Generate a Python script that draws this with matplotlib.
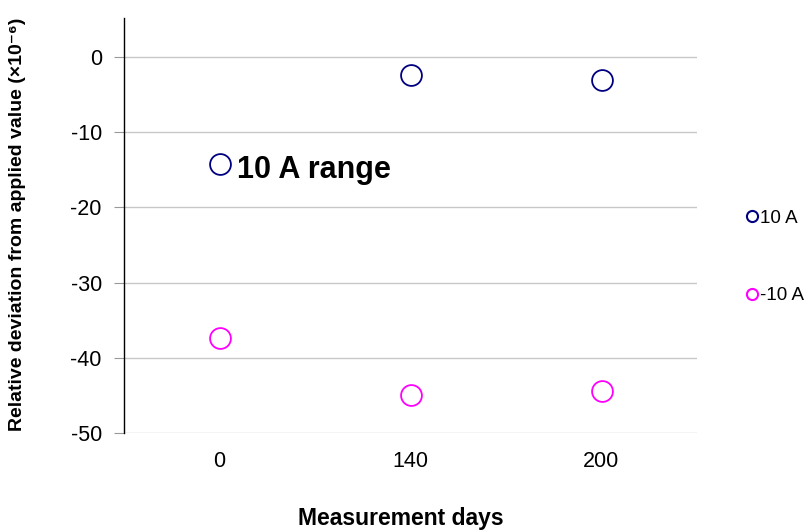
import matplotlib
matplotlib.use("Agg")
import matplotlib.pyplot as plt
from matplotlib.lines import Line2D

plt.rcParams['font.family'] = ['Liberation Sans', 'DejaVu Sans']

categories = ["0", "140", "200"]
pos_10A = [-14.2, -2.4, -3.1]
neg_10A = [-37.3, -45.0, -44.4]
yticks = [0, -10, -20, -30, -40, -50]

fig = plt.figure(figsize=(8.11, 5.30), dpi=100)
ax = fig.add_axes([124/811, 1-433/530, (697-124)/811, (433-18)/530])

x = [i + 0.5 for i in range(len(categories))]
ax.plot(x, pos_10A, linestyle='none', marker='o', markersize=15, markerfacecolor='white',
        markeredgecolor='#000080', markeredgewidth=1.3, label='10 A', zorder=3)
ax.plot(x, neg_10A, linestyle='none', marker='o', markersize=15, markerfacecolor='white',
        markeredgecolor='#FF00FF', markeredgewidth=1.3, label='-10 A', zorder=3)

ax.set_xlim(0, 3)
ax.set_ylim(-50, 5.2)
ax.set_yticks(yticks)
ax.set_yticklabels([str(v) for v in yticks], fontsize=15.5)
ax.set_xticks(x)
ax.set_xticklabels(categories, fontsize=15.5)
ax.tick_params(axis='x', length=0, pad=13)
ax.tick_params(axis='y', length=7, width=0.8, direction='out', color='#999999', pad=9)
ax.grid(axis='y', color='#c8c8c8', linewidth=1)
ax.set_axisbelow(True)
for s in ['top', 'right', 'bottom']:
    ax.spines[s].set_visible(False)
ax.spines['left'].set_color('black')
ax.spines['left'].set_linewidth(1)

ax.text(0.59, -15.0, "10 A range", fontsize=22, fontweight='bold', va='center', ha='left')

fig.text(18/811, 1-224/530, "Relative deviation from applied value (×10⁻⁶)", rotation=90,
         fontsize=14, fontweight='bold', ha='center', va='center')
fig.text(401/811, 1-518/530, "Measurement days", fontsize=16.5, fontweight='bold',
         ha='center', va='center')

handles = [Line2D([], [], linestyle='none', marker='o', markersize=8, markerfacecolor='white',
                  markeredgecolor='#000080', markeredgewidth=1.5),
           Line2D([], [], linestyle='none', marker='o', markersize=8, markerfacecolor='white',
                  markeredgecolor='#FF00FF', markeredgewidth=1.5)]
fig.legend(handles, ['10 A', '-10 A'], loc='center left', bbox_to_anchor=(746/811, 1-257/530),
           frameon=False, fontsize=13.5, handlelength=0.6, handletextpad=0.15, labelspacing=3.2,
           borderaxespad=0, borderpad=0)

fig.savefig("out.png", dpi=100)
